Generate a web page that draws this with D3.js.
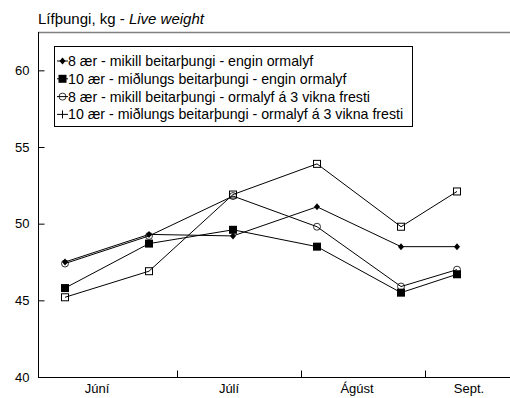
<html>
<head>
<meta charset="utf-8">
<style>
  body { margin: 0; background: #fff; }
  text { font-family: "Liberation Sans", Arial, sans-serif; fill: #000; }
</style>
</head>
<body>
<svg id="chart"></svg>
<script src="https://d3js.org/d3.v7.min.js"></script>
<script>
// weighing dates, every 3 weeks
var dates = ["2000-06-03", "2000-06-24", "2000-07-15", "2000-08-05", "2000-08-26", "2000-09-09"];

var seriesNames = [
  "8 ær - mikill beitarþungi - engin ormalyf",
  "10 ær - miðlungs beitarþungi - engin ormalyf",
  "8 ær - mikill beitarþungi - ormalyf á 3 vikna fresti",
  "10 ær - miðlungs beitarþungi - ormalyf á 3 vikna fresti"
];

var s1 = [47.5, 49.3, 49.2, 51.1, 48.5, 48.5];
var s2 = [45.8, 48.7, 49.6, 48.5, 45.5, 46.7];
var s3 = [47.4, 49.2, 51.8, 49.8, 45.9, 47.0];
var s4 = [45.2, 46.9, 51.9, 53.9, 49.8, 52.1];

var yTicks = [40, 45, 50, 55, 60];
var monthTicks = ["2000-07-01", "2000-08-01", "2000-09-01"];
var monthLabels = ["Júní", "Júlí", "Ágúst", "Sept."];
var monthLabelDates = ["2000-06-11", "2000-07-14", "2000-08-15", "2000-09-12"];

var W = 510, H = 398;
var pLeft = 38, pTop = 32, pRight = 510, pBottom = 377;

var svg = d3.select('#chart').attr('width', W).attr('height', H);

var parse = d3.utcParse('%Y-%m-%d');

var x = d3.scaleUtc()
  .domain([parse("2000-07-01"), parse("2000-09-01")])
  .range([177, 425]);

var y = d3.scaleLinear().domain([40, 62.5]).range([pBottom, pTop]);

// title
var title = svg.append('text').attr('x', 38).attr('y', 24).style('font-size', '15px');
title.append('tspan').text('Lífþungi, kg - ');
title.append('tspan').style('font-style', 'italic').text('Live weight');

// frame top (grey)
svg.append('line')
  .attr('x1', pLeft).attr('x2', pRight)
  .attr('y1', pTop + 0.5).attr('y2', pTop + 0.5)
  .attr('stroke', '#808080').attr('stroke-width', 1.5);

// y axis, ticks inward
var yAxis = d3.axisRight(y).tickValues(yTicks).tickSize(6).tickFormat(d3.format('d'));
var gy = svg.append('g').attr('transform', 'translate(' + (pLeft + 0.5) + ',0)').call(yAxis);
gy.select('.domain').remove();
gy.selectAll('.tick line').attr('stroke', '#000');
gy.selectAll('.tick text').attr('x', -9).attr('text-anchor', 'end')
  .style('font-size', '13px').style('font-family', '"Liberation Sans", Arial, sans-serif');
svg.append('line')
  .attr('x1', pLeft + 0.5).attr('x2', pLeft + 0.5)
  .attr('y1', pTop).attr('y2', pBottom + 0.5)
  .attr('stroke', '#000');

// x axis, month boundaries
var xAxis = d3.axisTop(x).tickValues(monthTicks.map(parse)).tickSize(7).tickFormat('');
var gx = svg.append('g').attr('transform', 'translate(0,' + (pBottom + 0.5) + ')').call(xAxis);
gx.select('.domain').remove();
gx.selectAll('.tick line').attr('stroke', '#000');
svg.append('line')
  .attr('x1', pLeft).attr('x2', pRight)
  .attr('y1', pBottom + 0.5).attr('y2', pBottom + 0.5)
  .attr('stroke', '#000');

svg.selectAll('.month')
  .data(monthLabels)
  .enter().append('text')
  .attr('class', 'month')
  .attr('x', function(d, i) { return x(parse(monthLabelDates[i])); })
  .attr('y', 393)
  .attr('text-anchor', 'middle')
  .style('font-size', '13px')
  .text(function(d) { return d; });

// lines
var all = [s1, s2, s3, s4];
var line = d3.line()
  .x(function(d, i) { return x(parse(dates[i])); })
  .y(function(d) { return y(d); });

svg.selectAll('.series')
  .data(all)
  .enter().append('path')
  .attr('class', 'series')
  .attr('d', line)
  .attr('fill', 'none')
  .attr('stroke', '#000')
  .attr('stroke-width', 1);

// markers
function marker(g, k, plot) {
  if (k === 0) {
    g.append('path').attr('d', 'M0,-3.5L3,0L0,3.5L-3,0Z').attr('fill', '#000');
  } else if (k === 1) {
    g.append('rect').attr('x', -4).attr('y', -4).attr('width', 8).attr('height', 8).attr('fill', '#000');
  } else if (k === 2) {
    g.append('circle').attr('r', 3.5).attr('fill', plot ? 'none' : '#fff').attr('stroke', '#000').attr('stroke-width', 0.8);
    if (!plot) g.append('line').attr('x1', -3.5).attr('x2', 3.5).attr('stroke', '#000');
  } else {
    if (plot) {
      g.append('rect').attr('x', -3.5).attr('y', -3.5).attr('width', 7).attr('height', 7)
        .attr('fill', 'none').attr('stroke', '#000').attr('stroke-width', 1);
    } else {
      g.append('line').attr('y1', -4).attr('y2', 4).attr('stroke', '#000');
    }
  }
}

all.forEach(function(s, k) {
  svg.selectAll('.m' + k)
    .data(s)
    .enter().append('g')
    .attr('class', 'm' + k)
    .attr('transform', function(d, i) { return 'translate(' + x(parse(dates[i])) + ',' + y(d) + ')'; })
    .each(function() { marker(d3.select(this), k, true); });
});

// legend
var lg = svg.append('g');
lg.append('rect')
  .attr('x', 54.5).attr('y', 46.5).attr('width', 358).attr('height', 80)
  .attr('fill', '#fff').attr('stroke', '#000');

var rows = lg.selectAll('.lrow')
  .data(seriesNames)
  .enter().append('g')
  .attr('class', 'lrow')
  .attr('transform', function(d, i) { return 'translate(0,' + (61 + i * 17.8) + ')'; });

rows.append('line')
  .attr('x1', 57).attr('x2', 68)
  .attr('stroke', '#000');
rows.each(function(d, k) {
  var g = d3.select(this).append('g').attr('transform', 'translate(62.5,0)');
  marker(g, k, false);
});
rows.append('text')
  .attr('x', 68).attr('y', 5)
  .style('font-size', '14.2px')
  .text(function(d) { return d; });
</script>
</body>
</html>
